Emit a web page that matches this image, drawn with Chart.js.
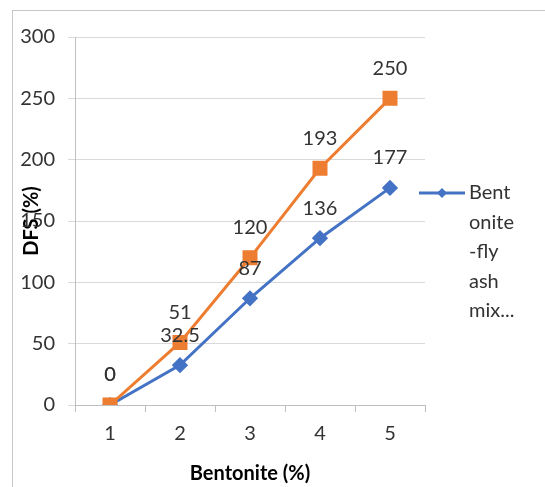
<!DOCTYPE html>
<html>
<head>
<meta charset="utf-8">
<script src="https://cdn.jsdelivr.net/npm/chart.js@4.4.1/dist/chart.umd.min.js"></script>
<style>
  html,body{margin:0;padding:0;background:#fff;overflow:hidden;}
  #frame{position:absolute;left:12px;top:10px;width:700px;height:700px;border:1px solid #c8c8c8;}
  #wrap{position:absolute;left:0;top:0;width:545px;height:487px;}
</style>
</head>
<body>
<div id="frame"></div>
<div id="wrap"><canvas id="chart" width="545" height="487"></canvas></div>
<script>
const categories=["1","2","3","4","5"];
const mixValues=[0,32.5,87,136,177];     // blue series
const otherValues=[0,51,120,193,250];    // orange series
const yTicks={min:0,max:300,step:50};
const seriesNames=["Bentonite-fly ash mix","Bentonite mix"];
const legendLines=["Bent","onite","-fly","ash","mix..."];

const blue="#4472C4", orange="#ED7D31", txt="#333333";
const font="Lato, 'Open Sans', sans-serif";

// value labels above each point
const valueLabels={
  id:"valueLabels",
  afterDatasetsDraw(chart){
    const c=chart.ctx;
    c.save();
    c.font="20px "+font; c.fillStyle=txt; c.textAlign="center"; c.textBaseline="middle";
    chart.data.datasets.forEach((ds,i)=>{
      chart.getDatasetMeta(i).data.forEach((p,j)=>{
        c.fillText(String(ds.data[j]),p.x,p.y-30);
      });
    });
    c.restore();
  }
};

// legend on the right, wrapped the way the original was
const sideLegend={
  id:"sideLegend",
  afterDraw(chart){
    const c=chart.ctx, y0=193;
    c.save();
    c.strokeStyle=blue; c.lineWidth=3;
    c.beginPath(); c.moveTo(419,y0); c.lineTo(465,y0); c.stroke();
    c.fillStyle=blue;
    c.beginPath(); c.moveTo(442,y0-5); c.lineTo(447,y0); c.lineTo(442,y0+5); c.lineTo(437,y0); c.closePath(); c.fill();
    c.font="20px "+font; c.fillStyle=txt; c.textAlign="left"; c.textBaseline="middle";
    legendLines.forEach((t,i)=>c.fillText(t,469,y0+i*29.5));
    c.restore();
  }
};

new Chart(document.getElementById("chart"),{
  type:"line",
  data:{
    labels:categories,
    datasets:[
      {label:seriesNames[1],data:otherValues,borderColor:orange,backgroundColor:orange,borderWidth:3,
       pointStyle:"rect",pointRadius:8.5,pointHoverRadius:8.5,order:0,tension:0},
      {label:seriesNames[0],data:mixValues,borderColor:blue,backgroundColor:blue,borderWidth:3,
       pointStyle:"rectRot",pointRadius:6,pointHoverRadius:6,order:1,tension:0}
    ]
  },
  options:{
    responsive:false,animation:false,
    layout:{padding:{top:37,right:120,left:0,bottom:0}},
    plugins:{legend:{display:false},tooltip:{enabled:false}},
    scales:{
      x:{
        offset:true,
        grid:{drawOnChartArea:false,drawTicks:true,tickLength:7,color:"#bfbfbf",offset:true},
        border:{display:true,color:"#bfbfbf"},
        ticks:{color:txt,font:{family:font,size:20},padding:10},
        title:{display:true,text:"Bentonite (%)",color:"#000",font:{family:font,size:20,weight:"bold"},padding:{top:1,bottom:1}},
        afterFit(s){s.height=82;}
      },
      y:{
        min:yTicks.min,max:yTicks.max,
        grid:{color:"#d9d9d9",tickLength:7},
        border:{display:true,color:"#bfbfbf"},
        ticks:{stepSize:yTicks.step,color:txt,font:{family:font,size:20},padding:13},
        title:{display:true,text:"DFS (%)",color:"#000",font:{family:font,size:20,weight:"bold"},padding:{top:20,bottom:20}},
        afterFit(s){s.width=75;}
      }
    }
  },
  plugins:[valueLabels,sideLegend]
});
</script>
</body>
</html>
